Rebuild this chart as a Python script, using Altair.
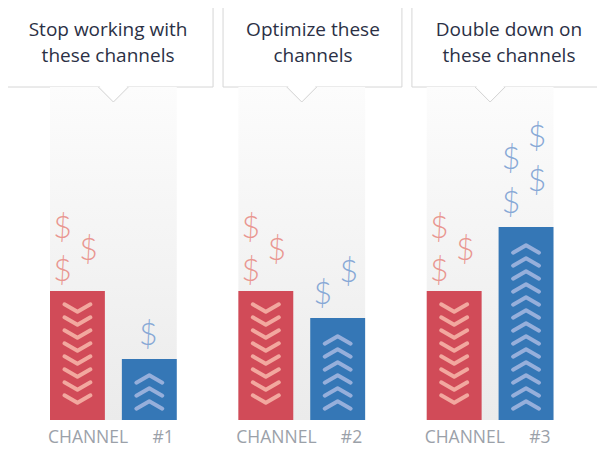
import altair as alt
import pandas as pd

# ---------------- data ----------------
channels = ["#1", "#2", "#3"]
titles = ["Stop working with\nthese channels", "Optimize these\nchannels", "Double down on\nthese channels"]
series = ["red", "blue"]
red_values = [32.25, 32.25, 32.25]
blue_values = [15.25, 25.5, 48.25]
red_chevrons = [8, 8, 8]
blue_chevrons = [3, 6, 13]
red_dollars = [3, 3, 3]
blue_dollars = [1, 2, 4]
backdrop_top = [83.25, 83.25, 83.25]
label_word = "CHANNEL"

# ---------------- layout / style ----------------
W, H = 589, 440
Y_DOMAIN = [-7, 103]
BOX_TOP, BOX_BOTTOM = 106, 83.25
TITLE_Y = 96
LABEL_Y = -5.7
X_RANGE = [42, 545.5]
# callout boxes in "slot" units (one slot = one channel step, 0 = first column start)
box_left = [-0.26, 0.918, 1.920]
box_right = [0.865, 1.867, 2.939]
title_pos = [0.308, 1.395, 2.435]
SLOT_DOMAIN = [-0.2228, 2.9019]
CHEV_BASE = {"red": 5.25, "blue": 3.75}
CHEV_STEP = 3.25
DOLLAR_BASE = {"red": 4.9, "blue": 5.9}
DOLLAR_STEP = {"red": 5.375, "blue": 5.5}
BAR_COLORS = ["#d14b58", "#3577b6"]
CHEV_COLORS = ["#f2a89f", "#96afdb"]
DOLLAR_COLORS = ["#e99690", "#87a8d6"]
V_PATH = "M-1,-0.28L0,0.28L1,-0.28"
UP_PATH = "M-1,0.28L0,-0.28L1,0.28"
FONT = "Open Sans"

# ---------------- tables ----------------
df_ch = pd.DataFrame({"channel": channels, "title": titles, "top": backdrop_top})
df_box = pd.DataFrame({"channel": channels, "title": titles, "x0": box_left,
                       "x1": box_right, "tx": title_pos})

df_bars = pd.DataFrame(
    [{"channel": c, "series": "red", "value": r} for c, r in zip(channels, red_values)]
    + [{"channel": c, "series": "blue", "value": b} for c, b in zip(channels, blue_values)]
)

chev_rows = []
for c, nr, nb in zip(channels, red_chevrons, blue_chevrons):
    for s, n in (("red", nr), ("blue", nb)):
        for k in range(n):
            chev_rows.append({"channel": c, "series": s, "y": CHEV_BASE[s] + CHEV_STEP * k})
df_chev = pd.DataFrame(chev_rows)

dol_rows = []
for c, rv, bv, nr, nb in zip(channels, red_values, blue_values, red_dollars, blue_dollars):
    for s, v, n in (("red", rv, nr), ("blue", bv, nb)):
        for k in range(n):
            col = "C" if n == 1 else ("L" if k % 2 == 0 else "R")
            dol_rows.append({"channel": c, "series": s, "col": col,
                             "y": v + DOLLAR_BASE[s] + DOLLAR_STEP[s] * k})
df_dol = pd.DataFrame(dol_rows)

df_lab = pd.DataFrame(
    [{"channel": c, "series": "red", "text": label_word} for c in channels]
    + [{"channel": c, "series": "blue", "text": c} for c in channels]
)

# ---------------- scales ----------------
xs = alt.Scale(type="band", domain=channels, range=X_RANGE, paddingInner=0.327, paddingOuter=0)
xo = alt.Scale(domain=series, paddingInner=0.236, paddingOuter=0)
ys = alt.Scale(domain=Y_DOMAIN, nice=False, zero=False)
slot = alt.Scale(domain=SLOT_DOMAIN, nice=False, zero=False)


def X(**kw):
    return alt.X("channel:N", scale=xs, axis=None, **kw)


def XO():
    return alt.XOffset("series:N", scale=xo)


def Y(field):
    return alt.Y(field, type="quantitative", scale=ys, axis=None)


def YD(v):
    return alt.Y(datum=v, scale=ys, axis=None)


# ---- decoration layer (callout boxes + titles) on a slot scale ----
boxes = alt.Chart(df_box).mark_rect(fill="white", stroke="#d6d6d6", strokeWidth=1).encode(
    x=alt.X("x0:Q", scale=slot, axis=None), x2="x1:Q", y=YD(BOX_TOP), y2=alt.datum(BOX_BOTTOM)
)
title_text = alt.Chart(df_box).mark_text(
    align="center", baseline="alphabetic", lineBreak="\n", lineHeight=26,
    fontSize=19, font=FONT, color="#2b3045"
).encode(x=alt.X("tx:Q", scale=slot, axis=None), y=YD(TITLE_Y), text="title:N")
deco = alt.layer(boxes, title_text)

# ---- main layer ----
main_layers = []

main_layers.append(
    alt.Chart(df_ch).mark_rect(
        color=alt.Gradient(
            gradient="linear",
            stops=[alt.GradientStop(color="#fcfcfc", offset=0),
                   alt.GradientStop(color="#ebebeb", offset=1)],
            x1=0, x2=0, y1=0, y2=1,
        )
    ).encode(x=X(), y=Y("top"), y2=alt.datum(0))
)

main_layers.append(
    alt.Chart(df_ch).mark_point(shape="M-1,-0.15L0,1L1,-0.15Z", size=900, filled=True,
                                fill="white", strokeWidth=0, opacity=1)
    .encode(x=X(), y=YD(BOX_BOTTOM))
)
main_layers.append(
    alt.Chart(df_ch).mark_point(shape="M-1,0L0,1L1,0", size=900, filled=False,
                                stroke="#d3d3d3", strokeWidth=1, opacity=1)
    .encode(x=X(), y=YD(BOX_BOTTOM))
)

main_layers.append(
    alt.Chart(df_bars).mark_bar()
    .encode(x=X(), xOffset=XO(), y=Y("value"), y2=alt.datum(0),
            color=alt.Color("series:N", scale=alt.Scale(domain=series, range=BAR_COLORS), legend=None))
)

main_layers.append(
    alt.Chart(df_chev).mark_point(filled=False, size=676, strokeWidth=4, strokeCap="round",
                                  strokeJoin="round", opacity=1)
    .encode(x=X(), xOffset=XO(), y=Y("y"),
            shape=alt.Shape("series:N", scale=alt.Scale(domain=series, range=[V_PATH, UP_PATH]), legend=None),
            stroke=alt.Stroke("series:N", scale=alt.Scale(domain=series, range=CHEV_COLORS), legend=None))
)

for col, dx in (("L", -15), ("R", 11), ("C", -1)):
    main_layers.append(
        alt.Chart(df_dol).transform_filter(alt.datum.col == col)
        .mark_text(text="$", fontSize=32, fontWeight=300, font="Lato", baseline="middle", dx=dx)
        .encode(x=X(), xOffset=XO(), y=Y("y"),
                fill=alt.Fill("series:N", scale=alt.Scale(domain=series, range=DOLLAR_COLORS), legend=None))
    )

main_layers.append(
    alt.Chart(df_lab).transform_filter(alt.datum.series == "red")
    .mark_text(align="left", baseline="alphabetic", fontSize=17.5, font=FONT, color="#9ba1a9", dx=-29.5)
    .encode(x=X(), xOffset=XO(), y=YD(LABEL_Y), text="text:N")
)
main_layers.append(
    alt.Chart(df_lab).transform_filter(alt.datum.series == "blue")
    .mark_text(align="right", baseline="alphabetic", fontSize=17.5, font=FONT, color="#9ba1a9", dx=24.5)
    .encode(x=X(), xOffset=XO(), y=YD(LABEL_Y), text="text:N")
)

main = alt.layer(*main_layers)

chart = (
    alt.layer(deco, main)
    .resolve_scale(x="independent")
    .properties(width=W, height=H, padding=0, autosize=alt.AutoSizeParams(type="none"))
    .configure(background="white")
    .configure_view(stroke=None)
)

chart.save("out.html", embed_options={"renderer": "svg", "actions": False})
